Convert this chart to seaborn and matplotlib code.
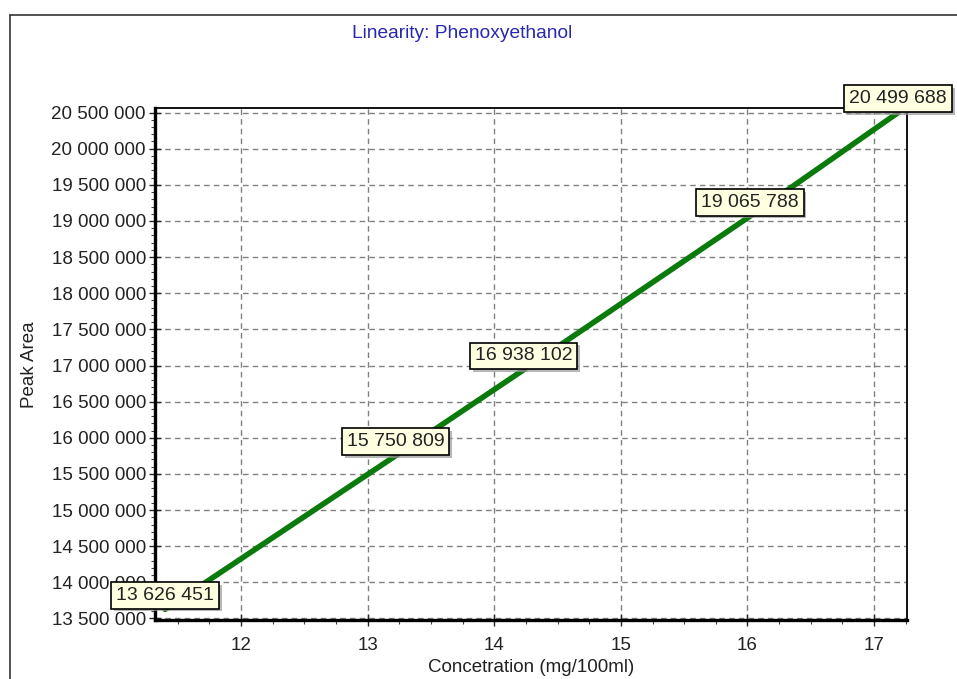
import matplotlib
matplotlib.use("Agg")
import matplotlib.pyplot as plt
import matplotlib.patheffects as pe
import seaborn as sns
import pandas as pd
from matplotlib.ticker import FuncFormatter, MultipleLocator
from matplotlib.lines import Line2D

concentration = [11.40, 13.22, 14.23, 16.02, 17.19]
peak_area = [13626451, 15750809, 16938102, 19065788, 20499688]
point_labels = ["13 626 451", "15 750 809", "16 938 102", "19 065 788", "20 499 688"]
title = "Linearity: Phenoxyethanol"
x_label = "Concetration (mg/100ml)"
y_label = "Peak Area"

df = pd.DataFrame({"conc": concentration, "area": peak_area})

sns.set_theme(style="white")
plt.rcParams["font.family"] = ["Liberation Sans", "DejaVu Sans"]

fig = plt.figure(figsize=(9.57, 6.79), dpi=100)
ax = fig.add_axes([155/957, 1-620/679, (907-155)/957, (620-108)/679])

sns.lineplot(data=df, x="conc", y="area", ax=ax, color="#0A7A0A", linewidth=4, zorder=3)
sns.scatterplot(data=df, x="conc", y="area", ax=ax, color="#333333", s=8, marker="s", zorder=4, linewidth=0)

ax.set_xlim(11.32, 17.26)
ax.set_ylim(13479000, 20563000)
ax.xaxis.set_major_locator(MultipleLocator(1))
ax.xaxis.set_minor_locator(MultipleLocator(0.25))
ax.yaxis.set_major_locator(MultipleLocator(500000))
ax.yaxis.set_minor_locator(MultipleLocator(100000))
ax.yaxis.set_major_formatter(FuncFormatter(lambda v, p: f"{int(round(v)):,}".replace(",", " ")))
ax.xaxis.set_major_formatter(FuncFormatter(lambda v, p: f"{int(round(v))}"))

ax.grid(True, which="major", linestyle=(0, (4, 3)), color="#808080", linewidth=1)
ax.tick_params(axis="y", which="major", labelsize=13.5, length=9, width=1,
               direction="inout", left=True, pad=2)
ax.tick_params(axis="x", which="major", labelsize=13.5, length=9, width=1,
               direction="inout", bottom=True, pad=8)
ax.tick_params(axis="both", which="minor", length=3, width=0.8, direction="out", left=True, bottom=True,
               color="#444444")
for t in ax.get_xticklabels() + ax.get_yticklabels():
    t.set_color("#222222")

for side in ["left", "bottom"]:
    ax.spines[side].set_linewidth(2.4)
    ax.spines[side].set_color("black")
for side in ["top", "right"]:
    ax.spines[side].set_linewidth(1.3)
    ax.spines[side].set_color("black")

ax.set_xlabel("")
ax.set_ylabel("")

for xv, yv, lab in zip(concentration, peak_area, point_labels):
    ann = ax.annotate(lab, (xv, yv), xytext=(0, 4), textcoords="offset points", ha="center", va="bottom",
                      fontsize=14, color="#222222", zorder=6, annotation_clip=False,
                      bbox=dict(boxstyle="square,pad=0.25", fc="#FFFFE1", ec="black", lw=1.2))
    ann.get_bbox_patch().set_path_effects([
        pe.SimplePatchShadow(offset=(2, -2), shadow_rgbFace="#999999", alpha=0.7),
        pe.Normal()])

fig.text(462/957, 1-33/679, title, ha="center", va="center", fontsize=13.8, color="#2828B0")
fig.text(30/957, 1-365/679, y_label, ha="center", va="center", rotation=90, fontsize=13.5, color="#222222")
fig.text(531/957, 1-668/679, x_label, ha="center", va="center", fontsize=13.5, color="#222222")

fig.add_artist(Line2D([10/957, 10/957], [0, 1-15/679], transform=fig.transFigure, color="#333333", lw=1.2))
fig.add_artist(Line2D([10/957, 1], [1-15/679, 1-15/679], transform=fig.transFigure, color="#333333", lw=1.2))

fig.savefig("out.png", dpi=100)
